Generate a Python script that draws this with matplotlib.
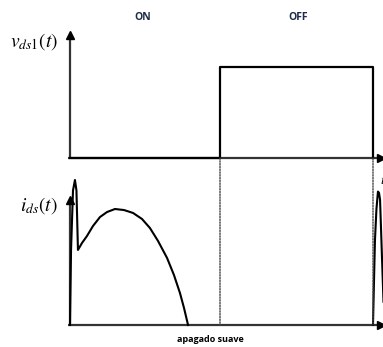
import matplotlib
matplotlib.use("Agg")
import matplotlib.pyplot as plt
from matplotlib.patches import ConnectionPatch

plt.rcParams['mathtext.fontset'] = 'stix'

# ---- data (time in units of the ON interval) ----
t_switch = 1.0          # ON -> OFF
t_period = 2.02         # end of OFF
vds_time = [0.0, t_switch, t_switch, t_period, t_period]
vds_vals = [0.0, 0.0, 1.0, 1.0, 0.0]

ids_time = [0.0, 0.007, 0.02, 0.033, 0.043, 0.053, 0.08, 0.113, 0.153, 0.2, 0.247, 0.3,
            0.36, 0.42, 0.48, 0.533, 0.587, 0.647, 0.693, 0.733, 0.76, 0.787]
ids_vals = [0.0, 0.65, 1.16, 1.25, 1.16, 0.647, 0.707, 0.767, 0.853, 0.931, 0.974, 1.0,
            0.991, 0.966, 0.914, 0.836, 0.724, 0.578, 0.431, 0.276, 0.147, 0.0]
ids2_time = [2.02, 2.027, 2.033, 2.043, 2.053, 2.06, 2.067, 2.073, 2.08, 2.09]
ids2_vals = [0.0, 0.4, 0.73, 1.0, 1.15, 1.14, 1.08, 0.85, 0.58, 0.2]

state_labels = ["ON", "OFF"]
xlabel_bottom = "apagado suave"

W, H = 383, 347
fig = plt.figure(figsize=(W / 100, H / 100), dpi=100)

def px_axes(x0, x1, ytop, ybot):
    return fig.add_axes([x0 / W, 1 - ybot / H, (x1 - x0) / W, (ybot - ytop) / H])

ax1 = px_axes(70, 381, 35, 158)
ax2 = px_axes(70, 381, 200, 325)
xmax = (381 - 70) / 150
ax1.set_xlim(0, xmax); ax1.set_ylim(0, (158 - 35) / 91)
ax2.set_xlim(0, xmax); ax2.set_ylim(0, (325 - 200) / 116)

axcol = '#333333'
for ax in (ax1, ax2):
    ax.axis('off')
    ax.plot([0, 0], [0, 1], transform=ax.transAxes, color=axcol, lw=1.6,
            clip_on=False, solid_capstyle='butt')
    ax.plot([-0.007, 1], [0, 0], transform=ax.transAxes, color=axcol, lw=1.6,
            clip_on=False, solid_capstyle='butt')
    ax.plot(0, 1, marker='^', ms=5.5, color='k', transform=ax.transAxes, clip_on=False)
    ax.plot(1, 0, marker='>', ms=5.5, color='k', transform=ax.transAxes, clip_on=False)

ax1.plot(vds_time, vds_vals, color='k', lw=1.6, clip_on=False)
ax2.plot(ids_time, ids_vals, color='k', lw=1.5, clip_on=False)
ax2.plot(ids2_time, ids2_vals, color='k', lw=1.5, clip_on=False)

# dotted switching lines
for tx in (t_switch, t_period):
    con = ConnectionPatch(xyA=(tx, 0), coordsA=ax1.transData,
                          xyB=(tx, 0), coordsB=ax2.transData,
                          color='#444444', lw=1.0, linestyle=(0, (1, 1)))
    fig.add_artist(con)

# labels
fig.text(34 / W, 1 - 42 / H, r'$v_{ds1}(t)$', ha='center', va='center', fontsize=14)
fig.text(39 / W, 1 - 206 / H, r'$i_{ds}(t)$', ha='center', va='center', fontsize=14)
fig.text(379.5 / W, 1 - 180 / H, r'$t$', ha='left', va='center', fontsize=10)

navy = '#1e2b4a'
fig.text(143 / W, 1 - 18 / H, state_labels[0], ha='center', va='center',
         fontsize=7.5, fontweight='bold', color=navy, family='Open Sans')
fig.text(298 / W, 1 - 18 / H, state_labels[1], ha='center', va='center',
         fontsize=7.5, fontweight='bold', color=navy, family='Open Sans')
fig.text(210 / W, 1 - 340 / H, xlabel_bottom, ha='center', va='center',
         fontsize=6.5, fontweight='bold', color='k', family='Open Sans')

fig.savefig('out.png', dpi=100)
